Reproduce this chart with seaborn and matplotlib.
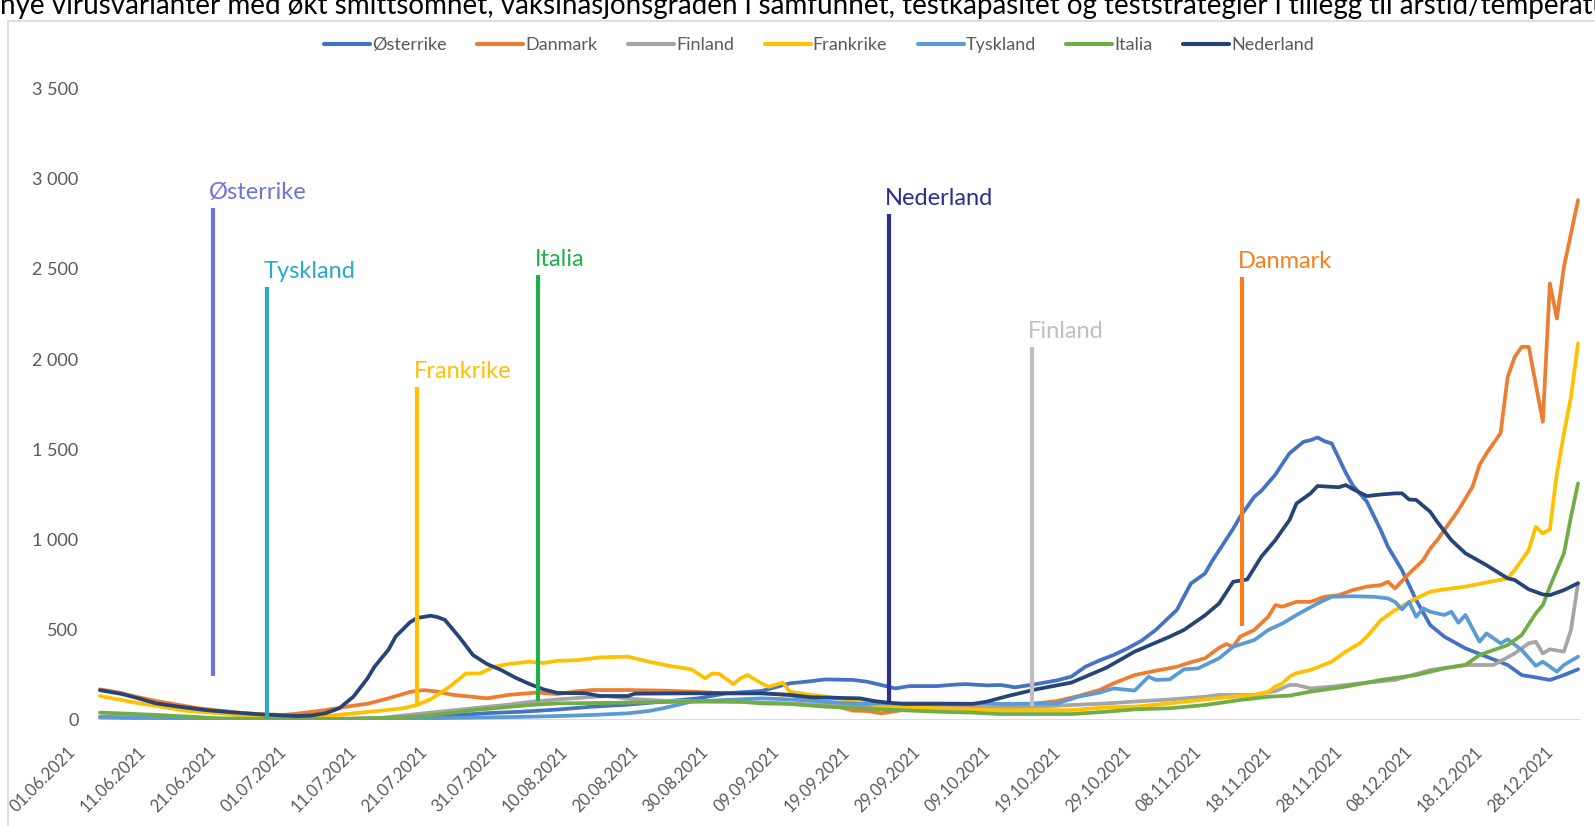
import datetime as dt
import matplotlib
matplotlib.use("Agg")
import matplotlib.pyplot as plt
import pandas as pd
import seaborn as sns
from matplotlib.lines import Line2D
from matplotlib.patches import Rectangle
from matplotlib.ticker import FuncFormatter
from matplotlib.transforms import ScaledTranslation

# ---------------- data (days after 01.06.2021, value) ----------------
START = dt.date(2021, 6, 1)

countries = ["Østerrike", "Danmark", "Finland", "Frankrike", "Tyskland", "Italia", "Nederland"]

aut_day = [0, 5, 10, 15, 20, 25, 30, 35, 40, 45, 50, 55, 60, 65, 70, 75, 80, 85, 89, 94, 98, 101, 103,
           107, 109, 111, 113, 115, 119, 121, 123, 126, 128, 130, 133, 136, 138, 140, 142, 144, 146, 148,
           150, 152, 153, 155, 157, 158, 160, 161, 162, 164, 165, 167, 168, 169, 171, 172, 173, 174, 175,
           177, 178, 180, 182, 183, 185, 187, 189, 191, 194, 197, 200, 202, 204, 206, 208, 210]
aut_val = [15, 12, 8, 5, 4, 3, 4, 6, 10, 14, 25, 38, 46, 58, 74, 85, 102, 120, 148, 161, 203, 215, 225,
           222, 212, 194, 175, 188, 188, 195, 199, 192, 194, 181, 199, 220, 240, 295, 330, 360, 397, 440,
           499, 573, 610, 757, 812, 880, 1000, 1060, 1127, 1237, 1270, 1360, 1420, 1478, 1542, 1551, 1566,
           1545, 1533, 1370, 1300, 1210, 1050, 960, 830, 665, 526, 462, 397, 351, 305, 249, 236, 222, 249, 281]

dnk_day = [0, 3, 5, 8, 11, 14, 17, 20, 23, 26, 28, 30, 32, 35, 38, 41, 44, 46, 48, 50, 52, 55, 58, 62, 65,
           68, 70, 75, 80, 84, 89, 94, 98, 101, 103, 105, 107, 109, 111, 112, 114, 119, 124, 128, 131, 133,
           136, 139, 142, 144, 147, 150, 153, 155, 157, 159, 160, 161, 162, 164, 166, 167, 168, 170, 172,
           174, 176, 178, 180, 182, 183, 184, 186, 188, 189, 190, 192, 193, 195, 196, 197, 199, 200, 201,
           202, 203, 205, 206, 207, 208, 209, 210]
dnk_val = [170, 150, 130, 105, 85, 65, 52, 40, 32, 28, 35, 45, 55, 74, 90, 120, 155, 166, 157, 140, 132,
           120, 139, 152, 144, 160, 166, 166, 163, 157, 148, 148, 139, 115, 92, 72, 52, 50, 37, 42, 55, 65,
           68, 70, 82, 92, 105, 133, 166, 203, 249, 273, 295, 320, 342, 400, 421, 406, 462, 499, 573, 637,
           628, 655, 655, 683, 692, 720, 739, 748, 766, 729, 812, 886, 950, 997, 1108, 1163, 1292, 1413,
           1478, 1590, 1900, 2012, 2068, 2068, 1653, 2419, 2225, 2512, 2696, 2881]

fin_day = [0, 10, 20, 30, 40, 46, 53, 58, 61, 65, 70, 72, 75, 80, 89, 98, 108, 115, 124, 133, 138, 143,
           147, 152, 157, 159, 164, 167, 169, 170, 172, 175, 179, 184, 189, 194, 198, 201, 203, 204, 205,
           206, 208, 209, 210]
fin_val = [15, 10, 6, 5, 12, 37, 65, 85, 100, 114, 128, 133, 118, 107, 102, 92, 74, 65, 65, 74, 83, 92,
           102, 114, 129, 139, 139, 160, 194, 194, 175, 185, 203, 222, 277, 305, 305, 369, 425, 434, 369,
           392, 379, 499, 758]

fra_day = [0, 3, 6, 8, 12, 17, 22, 27, 31, 35, 40, 43, 45, 47, 49, 50, 52, 54, 56, 58, 61, 63, 65, 68, 71,
           75, 78, 81, 84, 86, 87, 88, 90, 91, 92, 94, 95, 97, 98, 101, 104, 108, 111, 119, 128, 138, 143,
           147, 152, 157, 161, 164, 166, 167, 168, 169, 170, 172, 175, 177, 179, 180, 182, 184, 187, 189,
           191, 194, 197, 200, 201, 203, 204, 205, 206, 207, 208, 209, 210]
fra_val = [133, 111, 90, 79, 52, 37, 18, 9, 18, 33, 52, 65, 83, 115, 166, 194, 258, 258, 295, 310, 323, 316,
           328, 332, 347, 351, 323, 299, 281, 231, 258, 255, 199, 231, 249, 203, 184, 207, 157, 139, 126,
           102, 74, 65, 55, 55, 70, 74, 92, 114, 129, 139, 157, 185, 203, 240, 260, 277, 323, 379, 425,
           462, 554, 609, 674, 711, 724, 739, 762, 785, 831, 942, 1071, 1034, 1057, 1367, 1588, 1791, 2087]

deu_day = [0, 5, 10, 15, 20, 25, 30, 35, 40, 45, 51, 56, 61, 66, 70, 75, 78, 80, 82, 84, 89, 94, 98, 103,
           108, 111, 119, 128, 136, 139, 142, 144, 147, 149, 150, 152, 154, 156, 159, 161, 164, 166, 168,
           170, 173, 175, 178, 181, 183, 184, 185, 186, 187, 188, 189, 191, 192, 193, 194, 196, 197, 199,
           200, 202, 204, 205, 207, 208, 210]
deu_val = [18, 14, 10, 7, 5, 4, 4, 5, 7, 9, 12, 15, 18, 23, 28, 37, 50, 65, 83, 102, 111, 120, 114, 102, 89,
           92, 92, 89, 92, 129, 152, 175, 163, 240, 222, 225, 281, 286, 342, 406, 443, 499, 535, 582, 646,
           683, 686, 683, 674, 655, 613, 655, 572, 619, 600, 582, 600, 539, 582, 434, 480, 425, 447, 388,
           300, 323, 268, 305, 351]

ita_day = [0, 4, 8, 13, 17, 22, 27, 36, 41, 46, 50, 53, 56, 61, 65, 75, 84, 91, 94, 98, 103, 108, 111, 119,
           124, 128, 138, 143, 147, 152, 157, 162, 166, 169, 172, 177, 182, 187, 191, 194, 196, 198, 200,
           202, 204, 205, 206, 208, 209, 210]
ita_val = [41, 35, 28, 18, 9, 6, 6, 6, 12, 22, 40, 55, 65, 83, 92, 96, 102, 102, 92, 89, 74, 65, 59, 46,
           41, 33, 33, 46, 59, 65, 83, 111, 129, 135, 157, 185, 222, 249, 286, 305, 360, 388, 415, 471, 591,
           637, 739, 924, 1127, 1311]

nld_day = [0, 3, 5, 8, 11, 15, 18, 22, 25, 28, 30, 32, 34, 36, 38, 39, 41, 42, 44, 45, 47, 48, 49, 51, 53,
           55, 57, 59, 61, 63, 65, 69, 71, 75, 76, 84, 89, 94, 98, 101, 108, 110, 112, 114, 124, 126, 129,
           133, 138, 143, 147, 152, 154, 157, 159, 161, 163, 165, 167, 168, 169, 170, 172, 173, 176, 177,
           178, 180, 182, 184, 185, 186, 187, 189, 190, 192, 194, 197, 200, 201, 203, 205, 206, 208, 210]
nld_val = [165, 145, 125, 92, 75, 55, 45, 33, 27, 22, 25, 37, 65, 129, 230, 295, 390, 462, 540, 565, 578,
           570, 555, 462, 360, 310, 277, 235, 200, 170, 150, 148, 133, 133, 146, 148, 148, 148, 139, 126,
           120, 105, 96, 89, 89, 102, 133, 170, 207, 290, 379, 462, 499, 580, 646, 766, 779, 905, 997, 1053,
           1108, 1200, 1256, 1297, 1290, 1302, 1280, 1241, 1250, 1256, 1256, 1222, 1220, 1154, 1098, 997,
           924, 858, 785, 776, 724, 696, 692, 720, 758]

series_days = [aut_day, dnk_day, fin_day, fra_day, deu_day, ita_day, nld_day]
series_vals = [aut_val, dnk_val, fin_val, fra_val, deu_val, ita_val, nld_val]

tick_days = list(range(0, 211, 10))
tick_labels = [(START + dt.timedelta(days=d)).strftime("%d.%m.%Y") for d in tick_days]

# vertical marker lines (day, bottom, top)
marker_names = ["Østerrike", "Tyskland", "Frankrike", "Italia", "Nederland", "Finland", "Danmark"]
marker_day = [16.1, 23.8, 45.1, 62.3, 112.1, 132.4, 162.2]
marker_bottom = [244, 10, 94, 105, 94, 79, 521]
marker_top = [2836, 2399, 1848, 2467, 2806, 2068, 2456]

# ---------------- style ----------------
line_colors = {"Østerrike": "#4472C4", "Danmark": "#ED7D31", "Finland": "#A5A5A5",
               "Frankrike": "#FFC000", "Tyskland": "#5B9BD5", "Italia": "#70AD47",
               "Nederland": "#264478"}
marker_colors = {"Østerrike": "#6F72D8", "Tyskland": "#2AA8CB", "Frankrike": "#FFC000",
                 "Italia": "#1FAF4B", "Nederland": "#2B2F8F", "Finland": "#BFBFBF",
                 "Danmark": "#F77F1F"}

sns.set_style("white")
plt.rcParams["font.family"] = ["Lato", "DejaVu Sans"]

W, H = 1595, 826
fig = plt.figure(figsize=(W / 100, H / 100), dpi=100)
ax = fig.add_axes([98 / W, 1 - 720 / H, (1580 - 98) / W, (720 - 88.5) / H])

rows = []
for name, days, vals in zip(countries, series_days, series_vals):
    for d, v in zip(days, vals):
        rows.append({"land": name, "dag": d, "verdi": v})
df = pd.DataFrame(rows)

ax.axhline(0, color="#D9D9D9", lw=1.3, zorder=1)
sns.lineplot(data=df, x="dag", y="verdi", hue="land", hue_order=countries, palette=line_colors,
             linewidth=2.7, estimator=None, errorbar=None, sort=True, legend=False, ax=ax, zorder=3)

for name, d, b, t in zip(marker_names, marker_day, marker_bottom, marker_top):
    c = marker_colors[name]
    ax.plot([d, d], [b, t], color=c, lw=3.0, solid_capstyle="butt", zorder=4)
    ax.annotate(name, xy=(d, t), xytext=(-4, 9), textcoords="offset pixels",
                ha="left", va="baseline", fontsize=17, color=c, zorder=5)

ax.set_xlim(-0.28, 210.28)
ax.set_ylim(0, 3500)
ax.set_yticks(range(0, 3501, 500))
ax.yaxis.set_major_formatter(FuncFormatter(lambda v, p: f"{int(v):,}".replace(",", " ")))
ax.set_xticks(tick_days)
ax.set_xticklabels(tick_labels, rotation=45, ha="right", va="top", rotation_mode="anchor")
ax.tick_params(axis="both", length=0, colors="#595959")
ax.tick_params(axis="y", labelsize=13, pad=14)
ax.tick_params(axis="x", labelsize=12, pad=0)
off = ScaledTranslation(-0.33, -0.24, fig.dpi_scale_trans)
for lab in ax.get_xticklabels():
    lab.set_transform(lab.get_transform() + off)
ax.set_xlabel("")
ax.set_ylabel("")
for s in ax.spines.values():
    s.set_visible(False)
ax.grid(False)

handles = [Line2D([0], [0], color=line_colors[c], lw=3.0) for c in countries]
leg = ax.legend(handles, countries, loc="center", bbox_to_anchor=(819 / W, 1 - 45 / H),
                bbox_transform=fig.transFigure, ncol=7, frameon=False, fontsize=13,
                handlelength=2.55, handletextpad=0.1, columnspacing=1.7)
for t in leg.get_texts():
    t.set_color("#595959")

# chart frame and the caption line above it, which the reference shows clipped at the top edge
fig.patches.append(Rectangle((8 / W, -0.1), 1.2, 1.1 - 20.5 / H, transform=fig.transFigure,
                             fill=False, edgecolor="#D9D9D9", lw=1.2))
fig.text(0 / W, 1 - 14 / H,
         "nye virusvarianter med økt smittsomhet, vaksinasjonsgraden i samfunnet, testkapasitet og "
         "teststrategier i tillegg til årstid/temperatur",
         fontsize=20, va="baseline", ha="left", color="black")

fig.savefig("out.png", dpi=100)
